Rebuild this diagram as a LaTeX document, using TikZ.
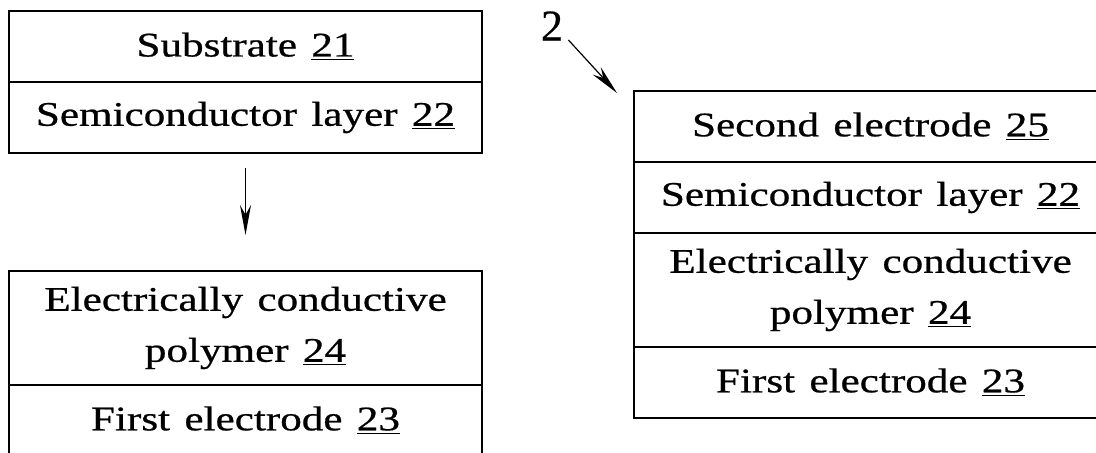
\documentclass[tikz,border=0pt]{standalone}
\usepackage{fontspec}
\setmainfont{LiberationSerif}[Extension=.ttf, UprightFont=*-Regular, FakeBold=0.6]
\usetikzlibrary{positioning,arrows.meta}

% layer captions are set wide
\newcommand{\widetext}[1]{\scalebox{1.25}[1]{#1}}

\begin{document}
\begin{tikzpicture}[
  x=0.5pt, y=0.5pt,
  every node/.style = {font=\fontsize{17.25}{25.5}\selectfont},
  %% layer boxes
  layer/.style = {rectangle, draw, line width=0.8pt, inner sep=0pt,
                  outer sep=0pt, minimum width=236.5pt, text width=236.5pt,
                  align=center, minimum height=35.5pt},
  tall/.style  = {layer, minimum height=57pt},
  %% arrows
  arr/.style   = {-{Stealth[length=15pt, width=5.5pt]}, line width=0.6pt}
]

%% page frame, the stacks run off its edges
\path[use as bounding box, clip] (0,0) rectangle (1096,452);

%% ---- left: before ----
\node[layer, anchor=north west] (sub) at (9,441)
  {\widetext{Substrate \underline{21}}};
\node[layer, below=0pt of sub] (semiA)
  {\widetext{Semiconductor layer \underline{22}}};

%% ---- left: after ----
\node[tall, anchor=north west] (ecpA) at (9,181)
  {\widetext{Electrically conductive}\\\widetext{polymer \underline{24}}};
\node[layer, below=0pt of ecpA] (feA)
  {\widetext{First electrode \underline{23}}};

%% ---- right: device 2 ----
\node[layer, anchor=north west] (seB) at (634,361)
  {\widetext{Second electrode \underline{25}}};
\node[layer, below=0pt of seB]   (semiB)
  {\widetext{Semiconductor layer \underline{22}}};
\node[tall,  below=0pt of semiB] (ecpB)
  {\widetext{Electrically conductive}\\\widetext{polymer \underline{24}}};
\node[layer, below=0pt of ecpB]  (feB)
  {\widetext{First electrode \underline{23}}};

\node[font=\fontsize{22}{26}\selectfont, inner sep=0pt]
  (lbl) at (552,426) {2};

%% ---- Arrows ----
\draw[arr, shorten <=7.5pt, shorten >=18pt] (semiA) -- (ecpA);
\draw[arr] ([shift={(5,1)}]lbl.south east) -- ([shift={(-17,-2)}]seB.north west);

\end{tikzpicture}
\end{document}
